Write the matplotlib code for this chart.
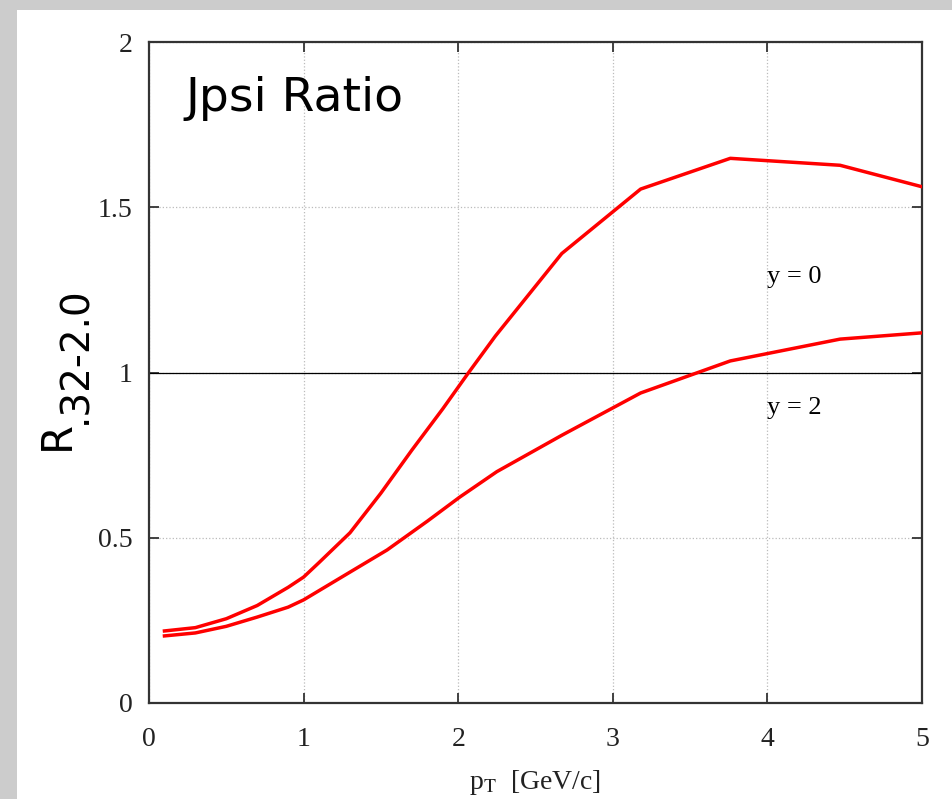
import matplotlib
matplotlib.use("Agg")
import matplotlib.pyplot as plt
from matplotlib.patches import Rectangle

# data
pt_y0 = [0.1, 0.3, 0.5, 0.7, 0.9, 1.0, 1.1, 1.3, 1.5, 1.7, 1.9, 2.06, 2.24, 2.67, 3.18, 3.76, 4.47, 5.0]
ratio_y0 = [0.218, 0.228, 0.255, 0.295, 0.350, 0.381, 0.425, 0.515, 0.635, 0.765, 0.89, 0.995, 1.11, 1.36, 1.555, 1.648, 1.627, 1.562]
pt_y2 = [0.1, 0.3, 0.5, 0.7, 0.9, 1.0, 1.3, 1.54, 1.8, 2.01, 2.25, 2.67, 3.18, 3.76, 4.47, 5.0]
ratio_y2 = [0.203, 0.212, 0.232, 0.26, 0.29, 0.312, 0.396, 0.463, 0.55, 0.623, 0.70, 0.81, 0.938, 1.035, 1.101, 1.12]
xticks = [0, 1, 2, 3, 4, 5]
yticks = [0, 0.5, 1, 1.5, 2]
ytick_labels = ["0", "0.5", "1", "1.5", "2"]

plt.rcParams['mathtext.fontset'] = 'stix'
serif = 'Liberation Serif'

fig = plt.figure(figsize=(9.53, 7.99), dpi=100)
fig.patch.set_facecolor('#cccccc')
# white panel behind everything
fig.patches.append(Rectangle((17/953, 0), 1, 1 - 10/799, transform=fig.transFigure,
                             facecolor='white', edgecolor='none', zorder=-5))

ax = fig.add_axes([149/953, 1 - 703/799, (922-149)/953, (703-42)/799])
ax.set_zorder(2)
ax.set_facecolor('white')

ax.plot(pt_y0, ratio_y0, color='#ff0000', lw=2.5, zorder=3)
ax.plot(pt_y2, ratio_y2, color='#ff0000', lw=2.5, zorder=3)
ax.axhline(1.0, color='black', lw=0.9, zorder=2)

ax.set_xlim(0, 5)
ax.set_ylim(0, 2)
ax.set_xticks(xticks)
ax.set_yticks(yticks)
ax.set_yticklabels(ytick_labels)
ax.grid(True, color='#bbbbbb', linestyle=':', lw=0.9)
ax.tick_params(direction='in', length=7, width=1.3, color='#333333',
               top=True, right=True, labelsize=20)
ax.tick_params(axis='x', pad=17)
ax.tick_params(axis='y', pad=12)
for lab in ax.get_xticklabels() + ax.get_yticklabels():
    lab.set_fontfamily(serif)
    lab.set_color('#222222')
for sp in ax.spines.values():
    sp.set_linewidth(1.6)
    sp.set_color('#333333')

ax.set_xlabel(r'p$_{\mathrm{T}}$  [GeV/c]', fontfamily=serif, fontsize=20,
              color='#222222', labelpad=12)

ax.text(4.0, 1.29, 'y = 0', fontfamily=serif, fontsize=19, va='center', ha='left')
ax.text(4.0, 0.893, 'y = 2', fontfamily=serif, fontsize=19, va='center', ha='left')

# title inside plot
ax.text(185/953, 1 - 111/799, 'Jpsi Ratio', transform=fig.transFigure,
        fontfamily='DejaVu Sans', fontsize=34, ha='left', va='baseline')

# y label: R with subscript
fig.text(78/953, 1 - 450/799, 'R', fontfamily='DejaVu Sans', fontsize=30,
         rotation=90, ha='right', va='bottom')
fig.text(94/953, 1 - 424/799, '.32-2.0', fontfamily='DejaVu Sans', fontsize=28,
         rotation=90, ha='right', va='bottom')

fig.savefig('out.png', dpi=100, facecolor=fig.get_facecolor())
